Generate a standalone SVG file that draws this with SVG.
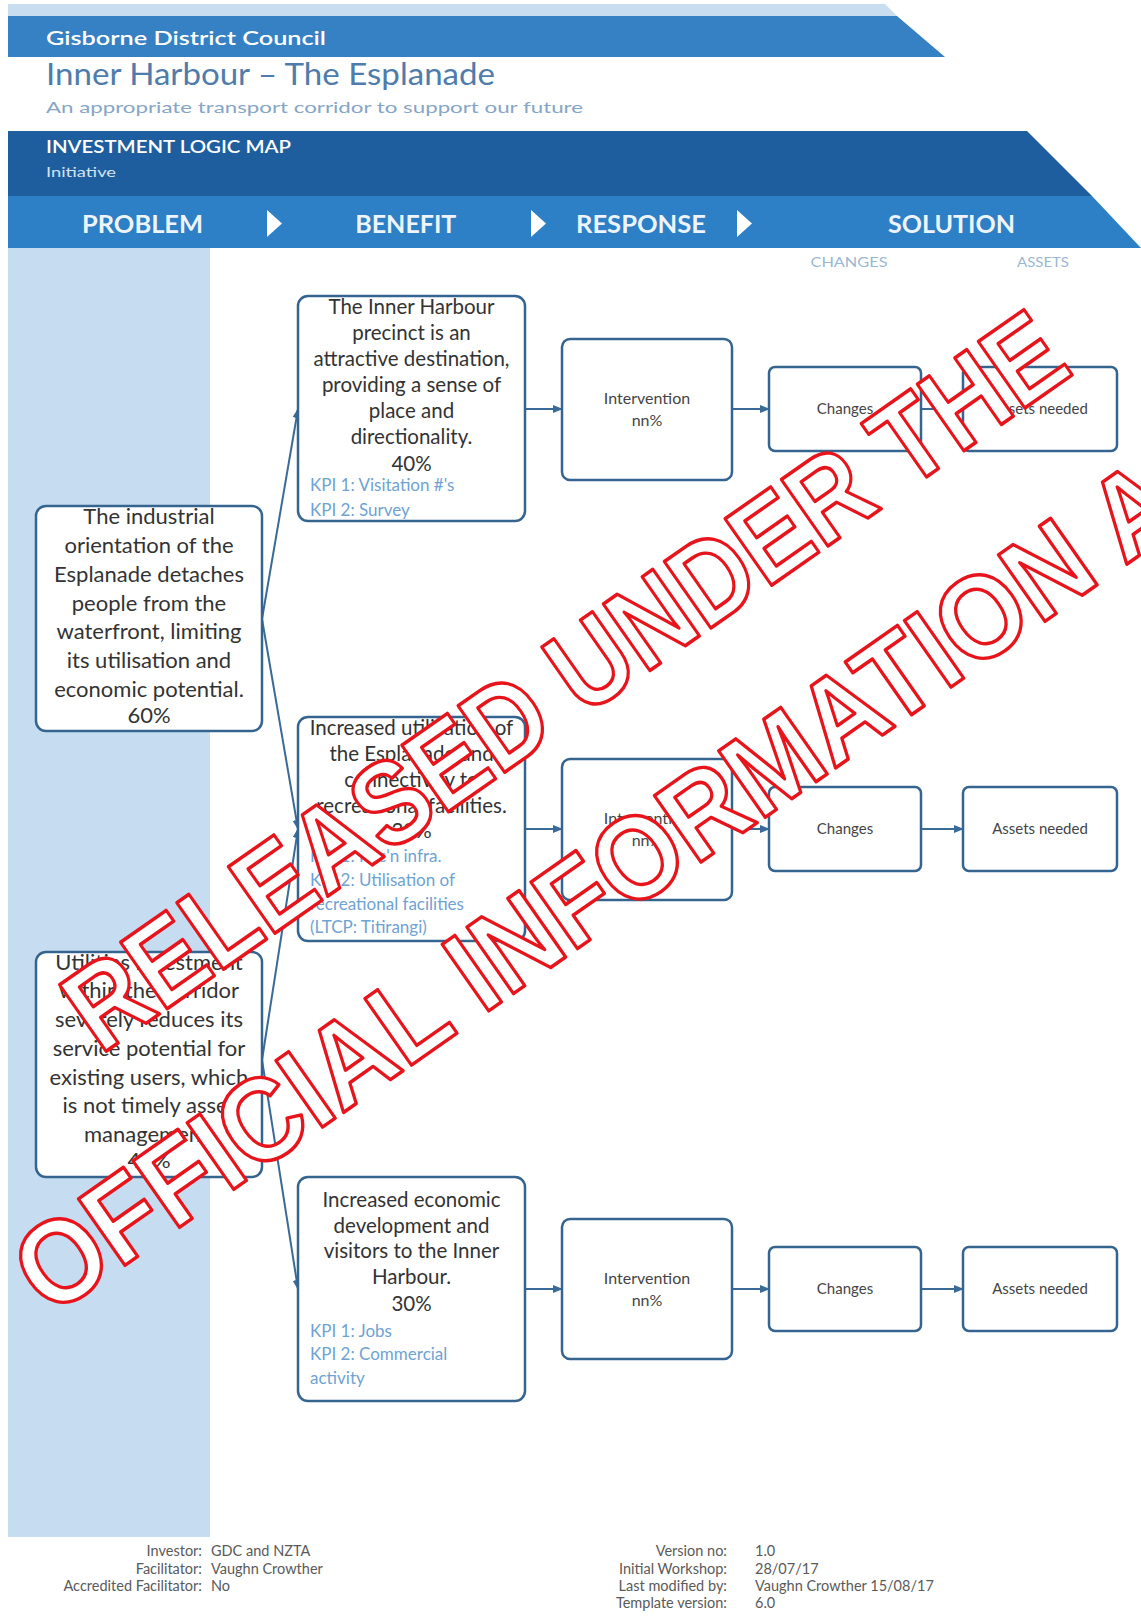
<svg xmlns="http://www.w3.org/2000/svg" width="1141" height="1619" viewBox="0 0 1141 1619">
<defs>
<marker id="arr" viewBox="0 0 10 10" refX="9" refY="5" markerWidth="5" markerHeight="5" orient="auto" markerUnits="strokeWidth">
<path d="M0,1 L10,5 L0,9 z" fill="#3a6b98"/>
</marker>
</defs>
<style>
.f{font-family:Lato,"Open Sans","Liberation Sans",sans-serif}
.box{fill:#fff;stroke:#35648f;stroke-width:2.5}
.bt{font-family:Lato,"Open Sans","Liberation Sans",sans-serif;fill:#333;text-anchor:middle}
.pt{font-size:22px}
.bn{font-size:20.5px}
.kpi{font-family:Lato,"Open Sans","Liberation Sans",sans-serif;font-size:17px;fill:#6fa3d2}
.sm{font-family:Lato,"Open Sans","Liberation Sans",sans-serif;font-size:15px;fill:#444;text-anchor:middle}
.iv{font-size:16px}
.hd{font-family:Lato,"Open Sans","Liberation Sans",sans-serif;font-size:24px;font-weight:bold;fill:#eef4fb;text-anchor:middle}
.ft{font-family:Lato,"Open Sans","Liberation Sans",sans-serif;font-size:14.5px;fill:#5a5a5a}
.con{stroke:#3a6b98;stroke-width:2;fill:none;marker-end:url(#arr)}
.wm{font-family:"Liberation Sans",Arial,sans-serif;font-size:118px;font-weight:bold;fill:#fff;stroke:#e8141c;stroke-width:3.5;stroke-linejoin:round}
</style>
<rect width="1141" height="1619" fill="#fff"/>
<g id="header">
<polygon points="8,4 885,4 897,16 8,16" fill="#c9ddf1"/>
<polygon points="8,16 897,16 945,57 8,57" fill="#3581c4"/>
<text class="f" x="46" y="45" font-size="20" font-weight="600" fill="#fff" textLength="280" lengthAdjust="spacingAndGlyphs">Gisborne District Council</text>
<text class="f" x="46" y="85" font-size="30" fill="#4f7cab" textLength="449" lengthAdjust="spacingAndGlyphs">Inner Harbour – The Esplanade</text>
<text class="f" x="46" y="113" font-size="16" fill="#86a6c6" textLength="537" lengthAdjust="spacingAndGlyphs">An appropriate transport corridor to support our future</text>
<polygon points="8,131 1027,131 1092,196 8,196" fill="#1e5e9e"/>
<polygon points="8,196 1092,196 1141,248 8,248" fill="#2d7fc6"/>
<text class="f" x="46" y="153" font-size="17" font-weight="600" fill="#fff" textLength="245" lengthAdjust="spacingAndGlyphs">INVESTMENT LOGIC MAP</text>
<text class="f" x="46" y="177" font-size="14" fill="#d3e3f3" textLength="70" lengthAdjust="spacingAndGlyphs">Initiative</text>
<text class="hd" x="142.5" y="233" textLength="121" lengthAdjust="spacingAndGlyphs">PROBLEM</text>
<text class="hd" x="405.8" y="233" textLength="101" lengthAdjust="spacingAndGlyphs">BENEFIT</text>
<text class="hd" x="641" y="233" textLength="130" lengthAdjust="spacingAndGlyphs">RESPONSE</text>
<text class="hd" x="951.5" y="233" textLength="127" lengthAdjust="spacingAndGlyphs">SOLUTION</text>
<polygon points="267,210 282,223.5 267,237" fill="#fff"/>
<polygon points="531,210 546,223.5 531,237" fill="#fff"/>
<polygon points="737,210 752,223.5 737,237" fill="#fff"/>
<text class="f" x="849" y="267" font-size="13" fill="#9ab7d3" text-anchor="middle" textLength="77" lengthAdjust="spacingAndGlyphs">CHANGES</text>
<text class="f" x="1043" y="267" font-size="13" fill="#9ab7d3" text-anchor="middle" textLength="52" lengthAdjust="spacingAndGlyphs">ASSETS</text>
</g>
<rect x="8" y="248" width="202" height="1289" fill="#c6dcf1"/>
<g id="connectors">
<line class="con" x1="262" y1="619" x2="298" y2="409"/>
<line class="con" x1="262" y1="619" x2="298" y2="829"/>
<line class="con" x1="262" y1="1060" x2="298" y2="829"/>
<line class="con" x1="262" y1="1060" x2="298" y2="1289"/>
<line class="con" x1="525" y1="409" x2="562" y2="409"/>
<line class="con" x1="525" y1="829" x2="562" y2="829"/>
<line class="con" x1="525" y1="1289" x2="562" y2="1289"/>
<line class="con" x1="732" y1="409" x2="769" y2="409"/>
<line class="con" x1="732" y1="829" x2="769" y2="829"/>
<line class="con" x1="732" y1="1289" x2="769" y2="1289"/>
<line class="con" x1="921" y1="409" x2="963" y2="409"/>
<line class="con" x1="921" y1="829" x2="963" y2="829"/>
<line class="con" x1="921" y1="1289" x2="963" y2="1289"/>
</g>
<g id="problem1">
<rect class="box" x="36" y="506" width="226" height="225" rx="10"/>
<text class="bt pt"><tspan x="149" y="524">The industrial</tspan><tspan x="149" y="553">orientation of the</tspan><tspan x="149" y="582">Esplanade detaches</tspan><tspan x="149" y="611">people from the</tspan><tspan x="149" y="639">waterfront, limiting</tspan><tspan x="149" y="668">its utilisation and</tspan><tspan x="149" y="697">economic potential.</tspan><tspan x="149" y="723">60%</tspan></text>
</g>
<g id="problem2">
<rect class="box" x="36" y="952" width="226" height="225" rx="10"/>
<text class="bt pt"><tspan x="149" y="970">Utilities investment</tspan><tspan x="149" y="998">within the corridor</tspan><tspan x="149" y="1027">severely reduces its</tspan><tspan x="149" y="1056">service potential for</tspan><tspan x="149" y="1085">existing users, which</tspan><tspan x="149" y="1113">is not timely asset</tspan><tspan x="149" y="1142">management.</tspan><tspan x="149" y="1168">40%</tspan></text>
</g>
<g id="benefit1">
<rect class="box" x="298" y="296" width="227" height="225" rx="10"/>
<text class="bt bn"><tspan x="411.5" y="314">The Inner Harbour</tspan><tspan x="411.5" y="340">precinct is an</tspan><tspan x="411.5" y="366">attractive destination,</tspan><tspan x="411.5" y="392">providing a sense of</tspan><tspan x="411.5" y="418">place and</tspan><tspan x="411.5" y="444">directionality.</tspan><tspan x="411.5" y="471">40%</tspan></text>
<text class="kpi"><tspan x="310" y="491">KPI 1: Visitation #'s</tspan><tspan x="310" y="516">KPI 2: Survey</tspan></text>
</g>
<g id="benefit2">
<rect class="box" x="298" y="717" width="227" height="224" rx="10"/>
<text class="bt bn"><tspan x="411.5" y="735">Increased utilisation of</tspan><tspan x="411.5" y="761">the Esplanade and</tspan><tspan x="411.5" y="787">connectivity to</tspan><tspan x="411.5" y="813">recreational facilities.</tspan><tspan x="411.5" y="838">30%</tspan></text>
<text class="kpi"><tspan x="310" y="862">KPI 1: Rec'n infra.</tspan><tspan x="310" y="886">KPI 2: Utilisation of</tspan><tspan x="310" y="910">recreational facilities</tspan><tspan x="310" y="933">(LTCP: Titirangi)</tspan></text>
</g>
<g id="benefit3">
<rect class="box" x="298" y="1177" width="227" height="224" rx="10"/>
<text class="bt bn"><tspan x="411.5" y="1207">Increased economic</tspan><tspan x="411.5" y="1233">development and</tspan><tspan x="411.5" y="1258">visitors to the Inner</tspan><tspan x="411.5" y="1284">Harbour.</tspan><tspan x="411.5" y="1311">30%</tspan></text>
<text class="kpi"><tspan x="310" y="1337">KPI 1: Jobs</tspan><tspan x="310" y="1360">KPI 2: Commercial</tspan><tspan x="310" y="1384">activity</tspan></text>
</g>
<g id="intervention1">
<rect class="box" x="562" y="339" width="170" height="141" rx="8"/>
<text class="sm iv"><tspan x="647" y="404">Intervention</tspan><tspan x="647" y="426">nn%</tspan></text>
</g>
<g id="intervention2">
<rect class="box" x="562" y="759" width="170" height="141" rx="8"/>
<text class="sm iv"><tspan x="647" y="824">Intervention</tspan><tspan x="647" y="846">nn%</tspan></text>
</g>
<g id="intervention3">
<rect class="box" x="562" y="1219" width="170" height="140" rx="8"/>
<text class="sm iv"><tspan x="647" y="1284">Intervention</tspan><tspan x="647" y="1306">nn%</tspan></text>
</g>
<g id="changes1">
<rect class="box" x="769" y="367" width="152" height="84" rx="6"/>
<text class="sm" x="845" y="414">Changes</text>
</g>
<g id="changes2">
<rect class="box" x="769" y="787" width="152" height="84" rx="6"/>
<text class="sm" x="845" y="834">Changes</text>
</g>
<g id="changes3">
<rect class="box" x="769" y="1247" width="152" height="84" rx="6"/>
<text class="sm" x="845" y="1294">Changes</text>
</g>
<g id="assets1">
<rect class="box" x="963" y="367" width="154" height="84" rx="6"/>
<text class="sm" x="1040" y="414">Assets needed</text>
</g>
<g id="assets2">
<rect class="box" x="963" y="787" width="154" height="84" rx="6"/>
<text class="sm" x="1040" y="834">Assets needed</text>
</g>
<g id="assets3">
<rect class="box" x="963" y="1247" width="154" height="84" rx="6"/>
<text class="sm" x="1040" y="1294">Assets needed</text>
</g>
<g id="footer">
<text class="ft" text-anchor="end"><tspan x="202" y="1556">Investor:</tspan><tspan x="202" y="1574">Facilitator:</tspan><tspan x="202" y="1591">Accredited Facilitator:</tspan></text>
<text class="ft"><tspan x="211" y="1556">GDC and NZTA</tspan><tspan x="211" y="1574">Vaughn Crowther</tspan><tspan x="211" y="1591">No</tspan></text>
<text class="ft" text-anchor="end"><tspan x="727" y="1556">Version no:</tspan><tspan x="727" y="1574">Initial Workshop:</tspan><tspan x="727" y="1591">Last modified by:</tspan><tspan x="727" y="1608">Template version:</tspan></text>
<text class="ft"><tspan x="755" y="1556">1.0</tspan><tspan x="755" y="1574">28/07/17</tspan><tspan x="755" y="1591">Vaughn Crowther 15/08/17</tspan><tspan x="755" y="1608">6.0</tspan></text>
</g>
<g id="watermark">
<text class="wm" transform="translate(588,714) rotate(-35)" text-anchor="middle" textLength="1190" lengthAdjust="spacingAndGlyphs">RELEASED UNDER THE</text>
<text class="wm" transform="translate(50,1318) rotate(-35)" textLength="1390" lengthAdjust="spacingAndGlyphs">OFFICIAL INFORMATION A</text>
</g>
</svg>
